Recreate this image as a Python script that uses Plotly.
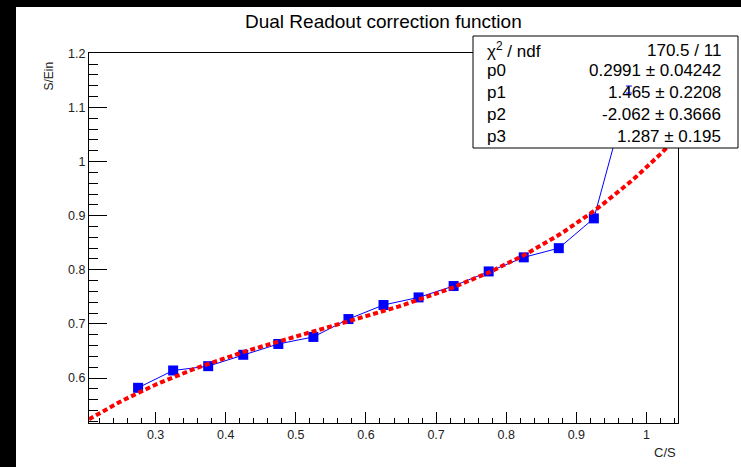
import numpy as np
import plotly.graph_objects as go

# Measured response: S/Ein versus C/S
cs = [0.275, 0.325, 0.375, 0.425, 0.475, 0.525, 0.575, 0.625,
      0.675, 0.725, 0.775, 0.825, 0.875, 0.925, 0.975]
s_ein = [0.582, 0.614, 0.622, 0.643, 0.663, 0.676, 0.709, 0.735,
         0.749, 0.770, 0.797, 0.823, 0.840, 0.895, 1.133]
s_err = [0.004, 0.004, 0.004, 0.004, 0.004, 0.004, 0.004, 0.004,
         0.004, 0.004, 0.004, 0.004, 0.005, 0.005, 0.0065]

# Cubic fit result: p0 + p1*x + p2*x^2 + p3*x^3
par_names = ["p0", "p1", "p2", "p3"]
par_vals = [0.2991, 1.465, -2.062, 1.287]
par_errs = ["0.04242", "0.2208", "0.3666", "0.195"]
par_text = ["0.2991", "1.465", "-2.062", "1.287"]
chi2, ndf = 170.5, 11

x_range = [0.205, 1.045]
y_range = [0.517, 1.2005]

xf = np.linspace(x_range[0], x_range[1], 100)
yf = sum(p * xf ** i for i, p in enumerate(par_vals))

fig = go.Figure()
fig.add_trace(go.Scatter(
    x=cs, y=s_ein, mode="lines+markers",
    line=dict(color="#0000ff", width=1),
    marker=dict(symbol="square", size=10, color="#0000ff"),
    error_y=dict(type="data", array=s_err, color="#0000ff", thickness=1, width=3),
    showlegend=False,
))
fig.add_trace(go.Scatter(
    x=xf, y=yf, mode="lines",
    line=dict(color="#ff0000", width=4, dash="5px,3px"),
    showlegend=False,
))

# plot-area geometry in pixels
L, R, T, B = 89, 678, 53, 423
W, H = 741, 467
pw, ph = R - L, B - T


def px(xp):
    return (xp - L) / pw


def py(yp):
    return (B - yp) / ph


def dx(v):
    return (v - x_range[0]) / (x_range[1] - x_range[0])


def dy(v):
    return (v - y_range[0]) / (y_range[1] - y_range[0])


shapes = [
    # dark canvas edges
    dict(type="rect", xref="paper", yref="paper", x0=px(0), x1=px(16), y0=py(W), y1=py(0),
         fillcolor="black", line=dict(width=0), layer="above"),
    dict(type="rect", xref="paper", yref="paper", x0=px(0), x1=px(W), y0=py(7), y1=py(0),
         fillcolor="black", line=dict(width=0), layer="above"),
    # statistics box
    dict(type="rect", xref="paper", yref="paper", x0=px(473), x1=px(738), y0=py(148), y1=py(36),
         fillcolor="white", line=dict(color="black", width=1), layer="above"),
]

# error bar of the last point shows through the box
xl, yl, el = cs[-1], s_ein[-1], s_err[-1]
cap = 3 / pw
bar = dict(color="#0000ff", width=1)
shapes += [
    dict(type="line", xref="paper", yref="paper", x0=dx(xl), x1=dx(xl),
         y0=dy(yl - el), y1=dy(yl + el), line=bar, layer="above"),
    dict(type="line", xref="paper", yref="paper", x0=dx(xl) - cap, x1=dx(xl) + cap,
         y0=dy(yl - el), y1=dy(yl - el), line=bar, layer="above"),
    dict(type="line", xref="paper", yref="paper", x0=dx(xl) - cap, x1=dx(xl) + cap,
         y0=dy(yl + el), y1=dy(yl + el), line=bar, layer="above"),
]

font_stat = dict(family="Liberation Sans, Arial, sans-serif", size=17, color="black")
rows_y = [50, 71, 92, 114, 136]
left_txt = ["χ<sup>2</sup> / ndf"] + par_names
right_txt = [f"{chi2} / {ndf}"] + [f"{v} ± {e}" for v, e in zip(par_text, par_errs)]
annotations = []
for yy, lt, rt in zip(rows_y, left_txt, right_txt):
    annotations.append(dict(xref="paper", yref="paper", x=px(485), y=py(yy), text=lt,
                            xanchor="left", yanchor="middle", showarrow=False, font=font_stat))
    annotations.append(dict(xref="paper", yref="paper", x=px(723), y=py(yy), text=rt,
                            xanchor="right", yanchor="middle", showarrow=False, font=font_stat))

annotations += [
    dict(xref="paper", yref="paper", x=px(383), y=py(22), text="Dual Readout correction function",
         xanchor="center", yanchor="middle", showarrow=False,
         font=dict(family="Liberation Sans, Arial, sans-serif", size=19, color="black")),
    dict(xref="paper", yref="paper", x=px(48), y=py(60), text="S/Ein", textangle=-90,
         xanchor="center", yanchor="top", showarrow=False,
         font=dict(family="Liberation Sans, Arial, sans-serif", size=12, color="#222")),
    dict(xref="paper", yref="paper", x=px(678), y=py(452), text="C/S",
         xanchor="right", yanchor="middle", showarrow=False,
         font=dict(family="Liberation Sans, Arial, sans-serif", size=13, color="#222")),
]

tickfont = dict(family="Liberation Sans, Arial, sans-serif", size=12.5, color="#222")
fig.update_layout(
    width=W, height=H,
    margin=dict(l=L, r=W - R, t=T, b=H - B),
    paper_bgcolor="white", plot_bgcolor="white",
    shapes=shapes, annotations=annotations,
    xaxis=dict(range=x_range, tick0=0, dtick=0.1, ticks="inside", ticklen=11, tickwidth=1,
               tickcolor="black", showline=True, linecolor="black", linewidth=1, mirror=True,
               showgrid=False, zeroline=False, tickfont=tickfont,
               minor=dict(ticks="inside", ticklen=5, dtick=0.02, tickcolor="black", showgrid=False)),
    yaxis=dict(range=y_range, tick0=0, dtick=0.1, ticks="inside", ticklen=18, tickwidth=1,
               tickcolor="black", showline=True, linecolor="black", linewidth=1, mirror=True,
               showgrid=False, zeroline=False, tickfont=tickfont,
               minor=dict(ticks="inside", ticklen=9, dtick=0.02, tickcolor="black", showgrid=False)),
)

fig.write_html("out.html")
